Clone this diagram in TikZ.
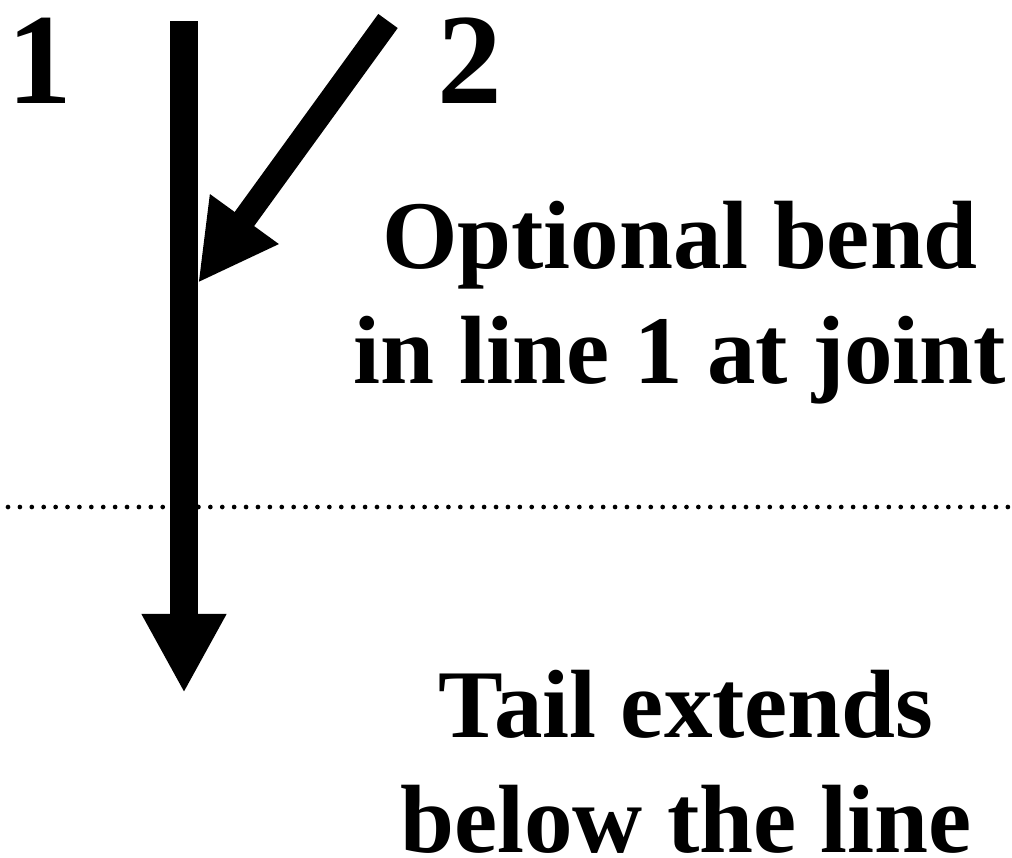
\documentclass[tikz,border=0pt]{standalone}
\usepackage{fontspec}
\setmainfont{Liberation Serif}
\usetikzlibrary{arrows.meta}

\begin{document}
\begin{tikzpicture}[x=0.025cm, y=-0.025cm,
  bigarrow/.style={-{Triangle[length=1.975cm,width=1.975cm]}},
  notetext/.style={font=\fontsize{69}{81.5}\selectfont\bfseries, inner sep=0pt, align=center},
  digit/.style={font=\fontsize{92}{110}\selectfont\bfseries, inner sep=0pt, anchor=base}]
  \useasboundingbox (0,0) rectangle (1012,857);
  % dotted reference line
  \coordinate (dotL) at (8,507);
  \coordinate (dotR) at (1012,507);
  \draw[line width=0.1175cm, line cap=round, dash pattern=on 0pt off 0.2975cm] (dotL) -- (dotR);
  % line 1 and line 2 meeting at the joint
  \coordinate (top1) at (184,21);
  \coordinate (tip1) at (184,693);
  \coordinate (top2) at (388,21);
  \coordinate (joint) at (198,283);
  \draw[bigarrow, line width=0.675cm] (top1) -- (tip1);
  \draw[bigarrow, line width=0.6cm] (top2) -- (joint);
  \node[digit] (one) at (40,103) {1};
  \node[digit] (two) at (470,103) {2};
  % base anchor sits on the last line
  \node[notetext, anchor=base] (bend) at (680,383) {Optional bend\\in line 1 at joint};
  \node[notetext, anchor=base] (tail) at (686,852) {Tail extends\\below the line};
\end{tikzpicture}
\end{document}
